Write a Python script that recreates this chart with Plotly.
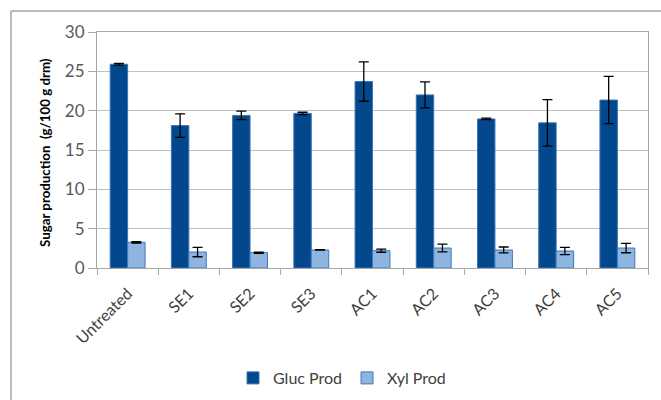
import plotly.graph_objects as go

categories = ["Untreated", "SE1", "SE2", "SE3", "AC1", "AC2", "AC3", "AC4", "AC5"]
gluc_prod = [25.9, 18.1, 19.4, 19.65, 23.7, 22.0, 18.95, 18.45, 21.35]
gluc_err = [0.1, 1.5, 0.55, 0.15, 2.5, 1.65, 0.1, 2.95, 3.0]
xyl_prod = [3.26, 2.03, 1.95, 2.29, 2.2, 2.54, 2.29, 2.16, 2.54]
xyl_err = [0.08, 0.6, 0.08, 0.03, 0.2, 0.5, 0.38, 0.47, 0.6]
y_ticks = [0, 5, 10, 15, 20, 25, 30]
y_title = "Sugar production  (g/100 g drm)"

FONT = "Lato"
TXT = "#404040"

fig = go.Figure()
fig.add_trace(go.Bar(
    x=categories, y=gluc_prod, name="Gluc Prod",
    marker=dict(color="#03478D", line=dict(color="#3A74B5", width=1)),
    error_y=dict(type="data", array=gluc_err, visible=True, color="black", thickness=1.3, width=5),
))
fig.add_trace(go.Bar(
    x=categories, y=xyl_prod, name="Xyl Prod",
    marker=dict(color="#8DB5E0", line=dict(color="#3F78BA", width=1)),
    error_y=dict(type="data", array=xyl_err, visible=True, color="black", thickness=1.3, width=5),
))

W, H = 661, 400
L, R, T, B = 97, 13, 32, 132
pw, ph = W - L - R, H - T - B

fig.update_layout(
    width=W, height=H,
    margin=dict(l=L, r=R, t=T, b=B, autoexpand=False),
    paper_bgcolor="white", plot_bgcolor="white",
    barmode="group", bargap=0.43, bargroupgap=0,
    font=dict(family=FONT, size=16, color=TXT),
    showlegend=True,
    legend=dict(orientation="h", x=(342 - L) / pw, xanchor="center",
                y=(T + ph - 378) / ph, yanchor="middle",
                font=dict(family=FONT, size=16, color=TXT),
                itemwidth=30, tracegroupgap=0),
    xaxis=dict(
        type="category", tickangle=-45, tickson="boundaries",
        ticks="outside", ticklen=6, tickcolor="#A6A6A6",
        showline=True, linecolor="#A6A6A6", linewidth=1,
        mirror=True, showgrid=False, automargin=False,
        ticklabelstandoff=9,
        tickfont=dict(family=FONT, size=16, color=TXT),
    ),
    yaxis=dict(
        range=[0, 30], tickvals=y_ticks, ticks="outside", ticklen=8,
        tickcolor="#A6A6A6", showline=True, linecolor="#A6A6A6", linewidth=1,
        mirror=True, showgrid=True, gridcolor="#BFBFBF", gridwidth=1,
        zeroline=False, automargin=False,
        tickfont=dict(family=FONT, size=17, color="#595959"),
    ),
    annotations=[
        dict(text="<b>" + y_title + "</b>", xref="paper", yref="paper",
             x=(45 - L) / pw, y=(T + ph - 152) / ph, xanchor="center", yanchor="middle",
             textangle=-90, showarrow=False,
             font=dict(family=FONT, size=13.3, color="black")),
    ],
    shapes=[
        dict(type="line", xref="paper", yref="paper",
             x0=(11 - L) / pw, x1=(W - L) / pw, y0=1 + (T - 11) / ph, y1=1 + (T - 11) / ph,
             line=dict(color="#A6A6A6", width=1.5)),
        dict(type="line", xref="paper", yref="paper",
             x0=(11 - L) / pw, x1=(11 - L) / pw, y0=1 + (T - 11) / ph, y1=-(B) / ph,
             line=dict(color="#A6A6A6", width=1.5)),
    ],
)

fig.write_html("out.html", config={"displayModeBar": False},
               post_script="document.body.style.margin='0';document.body.style.overflow='hidden';")
